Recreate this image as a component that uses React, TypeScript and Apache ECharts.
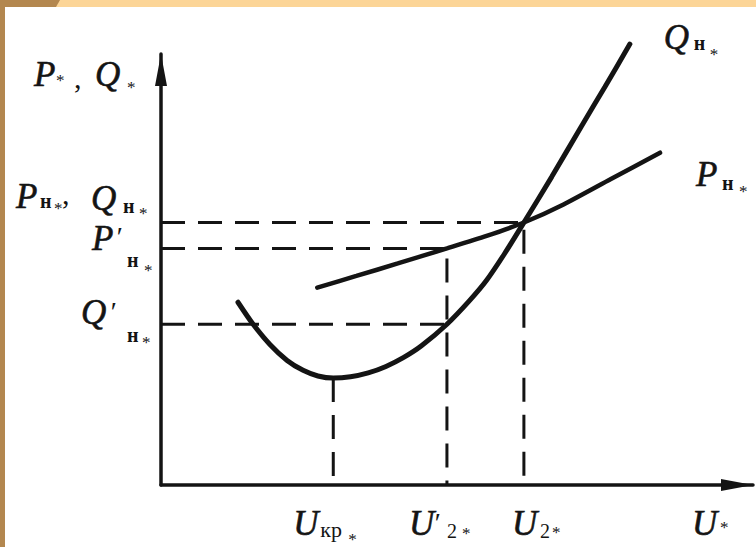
import React, { useEffect, useRef } from "react";
import * as echarts from "echarts";

// Q*(U*) curve: reactive power vs voltage
const qCurve: [number, number][] = [
  [1.3, 4.24], [1.55, 3.74], [1.84, 3.26], [2.13, 2.89], [2.4, 2.66], [2.65, 2.53], [2.91, 2.48],
  [3.2, 2.51], [3.5, 2.6], [3.8, 2.75], [4.1, 2.96], [4.4, 3.23], [4.83, 3.73], [5.2, 4.26],
  [5.5, 4.75], [5.8, 5.36], [6.13, 6.09], [6.6, 7.15], [7.1, 8.32], [7.5, 9.24], [7.92, 10.23],
];
// P*(U*) curve: active power vs voltage
const pCurve: [number, number][] = [
  [2.64, 4.58], [3.3, 4.85], [4.0, 5.14], [4.83, 5.49], [5.5, 5.78], [6.13, 6.09],
  [6.8, 6.51], [7.6, 7.1], [8.43, 7.71],
];
// voltages marked on the U axis: Uкр, U'2, U2
const uMarks = [2.91, 4.83, 6.13];
// levels marked on the P,Q axis: Pн=Qн, P'н, Q'н
const levelMarks = [6.09, 5.49, 3.73];
// minimum of the Q curve (at Uкр)
const qMinimum = 2.48;
const axisMax = { x: 10, y: 10 };

const FONT = '"Liberation Serif", "Times New Roman", serif';
const INK = "#141414";

type Piece = { t: string; dx: number; dy: number; s: number; it?: boolean; b?: boolean; heavy?: boolean };

const cap = (t: string, dx: number, dy: number): Piece => ({ t, dx, dy, s: 35, it: true, heavy: true });
const sub = (dx: number, dy: number): Piece => ({ t: "н", dx, dy, s: 20, b: true });
const star = (dx: number, dy: number): Piece => ({ t: "*", dx, dy, s: 17 });
const prime = (dx: number, dy: number): Piece => ({ t: "′", dx, dy, s: 28, it: true });

export default function App() {
  const ref = useRef<HTMLDivElement>(null);
  useEffect(() => {
    const chart = echarts.init(ref.current!, null, { renderer: "svg" });
    const guide = (data: number[][]) => ({
      type: "line",
      data,
      showSymbol: false,
      symbol: "none",
      silent: true,
      clip: false,
      lineStyle: { color: INK, width: 3, type: [24, 13] },
      z: 2,
    });
    const axisLine = {
      show: true,
      symbol: ["none", "triangle"],
      symbolSize: [12, 32],
      symbolOffset: [0, -16],
      lineStyle: { color: INK, width: 3.5 },
    };
    chart.setOption({
      animation: false,
      backgroundColor: "#ffffff",
      grid: { left: 161, top: 54, right: 3, bottom: 62 },
      xAxis: {
        type: "value", min: 0, max: axisMax.x,
        axisLine, axisTick: { show: false }, axisLabel: { show: false }, splitLine: { show: false },
      },
      yAxis: {
        type: "value", min: 0, max: axisMax.y,
        axisLine, axisTick: { show: false }, axisLabel: { show: false }, splitLine: { show: false },
      },
      series: [
        guide([[0, levelMarks[0]], [uMarks[2], levelMarks[0]], [uMarks[2], 0]]),
        guide([[0, levelMarks[1]], [uMarks[1], levelMarks[1]], [uMarks[1], 0]]),
        guide([[0, levelMarks[2]], [uMarks[1], levelMarks[2]]]),
        guide([[uMarks[0], qMinimum], [uMarks[0], 0]]),
        {
          type: "line", data: qCurve, smooth: 0.25, showSymbol: false, symbol: "none", clip: false,
          lineStyle: { color: INK, width: 5, cap: "round" }, z: 3,
        },
        {
          type: "line", data: pCurve, smooth: 0.25, showSymbol: false, symbol: "none", clip: false,
          lineStyle: { color: INK, width: 4.5, cap: "round" }, z: 3,
        },
      ],
    });

    const px = (x: number, y: number) => chart.convertToPixel({ gridIndex: 0 }, [x, y]) as number[];
    const texts: any[] = [];
    const put = (anchor: number[], list: Piece[]) => {
      list.forEach((p) => {
        texts.push({
          type: "text",
          x: anchor[0] + p.dx,
          y: anchor[1] + p.dy,
          z: 10,
          style: {
            text: p.t,
            fill: INK,
            stroke: p.heavy ? INK : undefined,
            lineWidth: p.heavy ? 0.6 : 0,
            font: `${p.it ? "italic " : ""}${p.b ? "bold " : ""}${p.s}px ${FONT}`,
            align: "left",
            textAlign: "left",
            verticalAlign: "middle",
            textVerticalAlign: "middle",
          },
        });
      });
    };

    // x-axis tick labels
    put(px(uMarks[0], 0), [cap("U", -40, 38), { t: "кр", dx: -13, dy: 44, s: 22 }, star(15, 54)]);
    put(px(uMarks[1], 0), [cap("U", -38, 38), prime(-14, 37), { t: "2", dx: 0, dy: 46, s: 20 }, star(15, 48)]);
    put(px(uMarks[2], 0), [cap("U", -12, 38), { t: "2", dx: 16, dy: 46, s: 20 }, star(28, 47)]);
    put(px(axisMax.x, 0), [cap("U", -61, 38), star(-33, 42)]);

    // y-axis labels
    put(px(0, levelMarks[0]), [
      cap("P", -145, -26), sub(-121, -21.5), star(-107, -14), { t: ",", dx: -99, dy: -29, s: 30 },
      cap("Q", -70, -24), sub(-38, -17), star(-22, -9),
    ]);
    put(px(0, levelMarks[1]), [cap("P", -69, -9.5), prime(-46, -12), sub(-34, 12), star(-17, 22)]);
    put(px(0, levelMarks[2]), [cap("Q", -80, -12), prime(-52, -13), sub(-34, 11), star(-19, 18)]);
    put(px(0, axisMax.y), [
      cap("P", -127, 20), star(-105, 26), { t: ",", dx: -87, dy: 23, s: 30 }, cap("Q", -66, 20), star(-34, 33),
    ]);

    // curve labels
    put(px(qCurve[qCurve.length - 1][0], qCurve[qCurve.length - 1][1]), [cap("Q", 34, -7), sub(64, -1), star(80, 10)]);
    put(px(pCurve[pCurve.length - 1][0], pCurve[pCurve.length - 1][1]), [cap("P", 36, 22), sub(62, 30), star(79, 39)]);

    chart.setOption({
      graphic: {
        elements: [
          { type: "rect", shape: { x: 0, y: 0, width: 756, height: 7 }, style: { fill: "#fcd597" }, z: 20 },
          { type: "polygon", shape: { points: [[0, 0], [60, 0], [56, 7], [0, 7]] }, style: { fill: "#b3874f" }, z: 21 },
          { type: "rect", shape: { x: 0, y: 0, width: 5, height: 547 }, style: { fill: "#b3874f" }, z: 21 },
          ...texts,
        ],
      },
    });
    return () => chart.dispose();
  }, []);
  return <div ref={ref} style={{ position: "fixed", left: 0, top: 0, width: 756, height: 547 }} />;
}
